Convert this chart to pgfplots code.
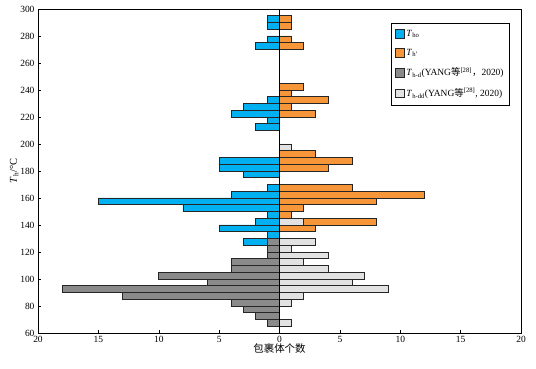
\documentclass[border=0pt]{standalone}
\usepackage{fontspec}
\setmainfont{Liberation Serif}
\newfontfamily\cjk{Noto Sans CJK SC}
\usepackage{pgfplots}
\pgfplotsset{compat=1.18}
\definecolor{cblue}{RGB}{0,176,240}
\definecolor{corange}{RGB}{247,150,57}
\definecolor{cdgray}{RGB}{138,138,138}
\definecolor{clgray}{RGB}{226,226,226}
\pgfplotsset{
  sq/.style={bar shift=0pt, draw=black!85, line width=0.6pt,
    legend image code/.code={\draw[##1, line width=0.6pt] (0pt,-4.5pt) rectangle (9pt,4.5pt);}}
}
\begin{document}
\begin{tikzpicture}
\begin{axis}[
  name=ax,
  scale only axis, width=483bp, height=324bp,
  xbar, bar width=5,
  xmin=-20, xmax=20, ymin=60, ymax=300,
  xtick={-20,-15,...,20}, xticklabels={20,15,10,5,0,5,10,15,20},
  ytick={60,80,...,300},
  tick align=inside, xtick pos=bottom, ytick pos=left,
  major tick length=3pt,
  tick style={black, line width=0.5pt},
  axis line style={black, line width=0.6pt},
  font=\fontsize{9.5}{11}\selectfont,
  /pgf/number format/assume math mode=true,
  ylabel={\fontsize{10.5}{12}\selectfont\textit{T}\textsubscript{h}/°C},
  xlabel={\fontsize{10.5}{12}\selectfont\cjk 包裹体个数},
  ylabel style={yshift=-5pt},
  xlabel style={yshift=6pt},
  legend cell align=left,
  legend style={at={(0.977,0.957)}, anchor=north east, draw=black, line width=0.6pt,
    font=\fontsize{9.5}{11}\selectfont, row sep=7pt, inner xsep=4pt, inner ysep=5pt},
]
\addplot[sq, fill=cblue] coordinates {
(-1,292.5) (-1,287.5) (-1,277.5) (-2,272.5)
(-1,232.5) (-3,227.5) (-4,222.5) (-1,217.5) (-2,212.5)
(-5,187.5) (-5,182.5) (-3,177.5)
(-1,167.5) (-4,162.5) (-15,157.5) (-8,152.5) (-1,147.5) (-2,142.5) (-5,137.5) (-1,132.5) (-3,127.5)
};
\addlegendentry{\textit{T}\textsubscript{ho}}
\addplot[sq, fill=corange] coordinates {
(1,292.5) (1,287.5) (1,277.5) (2,272.5)
(2,242.5) (1,237.5) (4,232.5) (1,227.5) (3,222.5)
(3,192.5) (6,187.5) (4,182.5)
(6,167.5) (12,162.5) (8,157.5) (2,152.5) (1,147.5) (8,142.5) (3,137.5)
};
\addlegendentry{\textit{T}\textsubscript{h'}}
\addplot[sq, fill=cdgray] coordinates {
(-1,127.5) (-1,122.5) (-1,117.5) (-4,112.5) (-4,107.5) (-10,102.5) (-6,97.5)
(-18,92.5) (-13,87.5) (-4,82.5) (-3,77.5) (-2,72.5) (-1,67.5)
};
\addlegendentry{\textit{T}\textsubscript{h-d}(YANG{\cjk 等}\textsuperscript{[28]}{\cjk ，}2020)}
\addplot[sq, fill=clgray] coordinates {
(1,197.5) (2,142.5) (3,127.5) (1,122.5) (4,117.5) (2,112.5) (4,107.5)
(7,102.5) (6,97.5) (9,92.5) (2,87.5) (1,82.5) (1,67.5)
};
\addlegendentry{\textit{T}\textsubscript{h-dd}(YANG{\cjk 等}\textsuperscript{[28]}, 2020)}
\draw[black, line width=0.6pt] (axis cs:0,60) -- (axis cs:0,300);
\end{axis}
\pgfresetboundingbox
\path ([shift={(-38bp,-36bp)}]ax.south west) rectangle ([shift={(15bp,9bp)}]ax.north east);
\end{tikzpicture}
\end{document}
